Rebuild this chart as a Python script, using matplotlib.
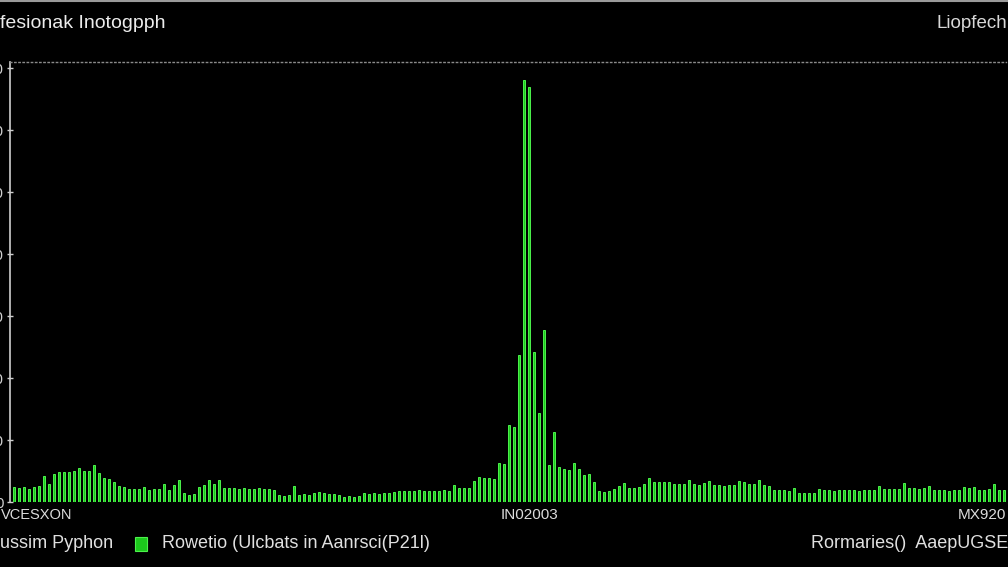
import matplotlib
matplotlib.use("Agg")
import matplotlib.pyplot as plt
from matplotlib.patches import Rectangle
from matplotlib.lines import Line2D

# ---- data (bar heights) ----
heights = [
    24, 23, 24, 21, 24, 26, 42, 29, 45, 48,
    48, 48, 50, 55, 50, 50, 60, 47, 39, 37,
    32, 26, 24, 21, 21, 21, 24, 19, 21, 21,
    29, 19, 27, 35, 15, 11, 13, 24, 27, 35,
    29, 35, 23, 23, 23, 21, 23, 21, 21, 23,
    21, 21, 19, 11, 10, 11, 26, 11, 13, 11,
    15, 16, 15, 13, 13, 11, 8, 10, 8, 10,
    15, 13, 15, 13, 15, 15, 16, 18, 18, 18,
    18, 19, 18, 18, 18, 18, 19, 18, 27, 23,
    23, 23, 34, 40, 39, 39, 37, 63, 61, 124,
    121, 237, 681, 669, 242, 144, 277, 60, 113, 56,
    53, 52, 63, 53, 44, 45, 32, 18, 16, 18,
    21, 26, 31, 23, 23, 24, 29, 39, 32, 32,
    32, 32, 29, 29, 29, 35, 29, 27, 31, 34,
    27, 27, 26, 27, 27, 34, 32, 29, 29, 35,
    27, 26, 19, 19, 19, 18, 23, 15, 15, 15,
    15, 21, 19, 19, 18, 19, 19, 19, 19, 18,
    19, 19, 19, 26, 21, 21, 21, 21, 31, 23,
    23, 21, 23, 26, 19, 19, 19, 18, 19, 19,
    24, 23, 24, 19, 19, 21, 29, 19, 19,
]
ytick_values = [0, 100, 200, 300, 400, 500, 600, 700]
ytick_labels = ["0", "100", "200", "300", "400", "500", "600", "700"]
title_left = "fesionak Inotogpph"
title_right = "Liopfech"
xlabel_left = "VCESXON"
xlabel_mid = "IN02003"
xlabel_right = "MX920"
legend_left = "ussim Pyphon"
legend_series = "Rowetio (Ulcbats in Aanrsci(P21l)"
legend_right = "Rormaries()  AaepUGSE"

W, H = 1008, 567
fig = plt.figure(figsize=(W / 100, H / 100), dpi=100, facecolor="black")

# axes: left spine at x=10px, baseline y=502px, top y=62px
ax = fig.add_axes([10 / W, (H - 502) / H, 996 / W, 440 / H], facecolor="black")
idx = list(range(len(heights)))
ax.bar(idx, heights, width=0.58, color="#1cc81c", edgecolor="#4cf24c", linewidth=0.7)
ax.set_xlim(-0.8, len(heights) - 0.6)
ax.set_ylim(0, 710)

ax.set_yticks(ytick_values)
ax.set_yticklabels(ytick_labels)
ax.tick_params(axis="y", direction="inout", length=5, width=1, colors="#d0d0d0",
               labelsize=10, pad=2)
ax.tick_params(axis="x", bottom=False, labelbottom=False)

for s in ["right", "bottom"]:
    ax.spines[s].set_visible(False)
ax.spines["left"].set_color("#cfcfcf")
ax.spines["left"].set_linewidth(1.2)
ax.spines["top"].set_color("#8a8a8a")
ax.spines["top"].set_linestyle((0, (1, 2)))
ax.spines["top"].set_linewidth(1.0)

def fx(px):
    return px / W

def fy(py):
    return 1 - py / H

fig.text(fx(0), fy(24), title_left, color="#ececec", fontsize=14,
         family="Liberation Sans", ha="left", va="center")
fig.text(fx(1007), fy(24), title_right, color="#d8d8d8", fontsize=13.5,
         family="Liberation Sans", ha="right", va="center")

fig.text(fx(1), fy(515), xlabel_left, color="#dcdcdc", fontsize=10.5,
         family="Liberation Sans", ha="left", va="center")
fig.text(fx(529), fy(515), xlabel_mid, color="#dcdcdc", fontsize=11,
         family="Liberation Sans", ha="center", va="center")
fig.text(fx(1006), fy(515), xlabel_right, color="#dcdcdc", fontsize=11,
         family="Liberation Sans", ha="right", va="center")

fig.text(fx(0), fy(544), legend_left, color="#e0e0e0", fontsize=13,
         family="Liberation Sans", ha="left", va="center")
fig.patches.append(Rectangle((fx(135), fy(551)), 12 / W, 14 / H,
                             transform=fig.transFigure, facecolor="#1cc81c",
                             edgecolor="#4cf24c", linewidth=0.8))
fig.text(fx(162), fy(544), legend_series, color="#e0e0e0", fontsize=13,
         family="Liberation Sans", ha="left", va="center")
fig.text(fx(1008), fy(544), legend_right, color="#e0e0e0", fontsize=13,
         family="Liberation Sans", ha="right", va="center")

fig.lines.append(Line2D([0, 1], [fy(1), fy(1)], transform=fig.transFigure,
                        color="#9a9a9a", linewidth=1.5))

fig.savefig("out.png", dpi=100, facecolor="black")
